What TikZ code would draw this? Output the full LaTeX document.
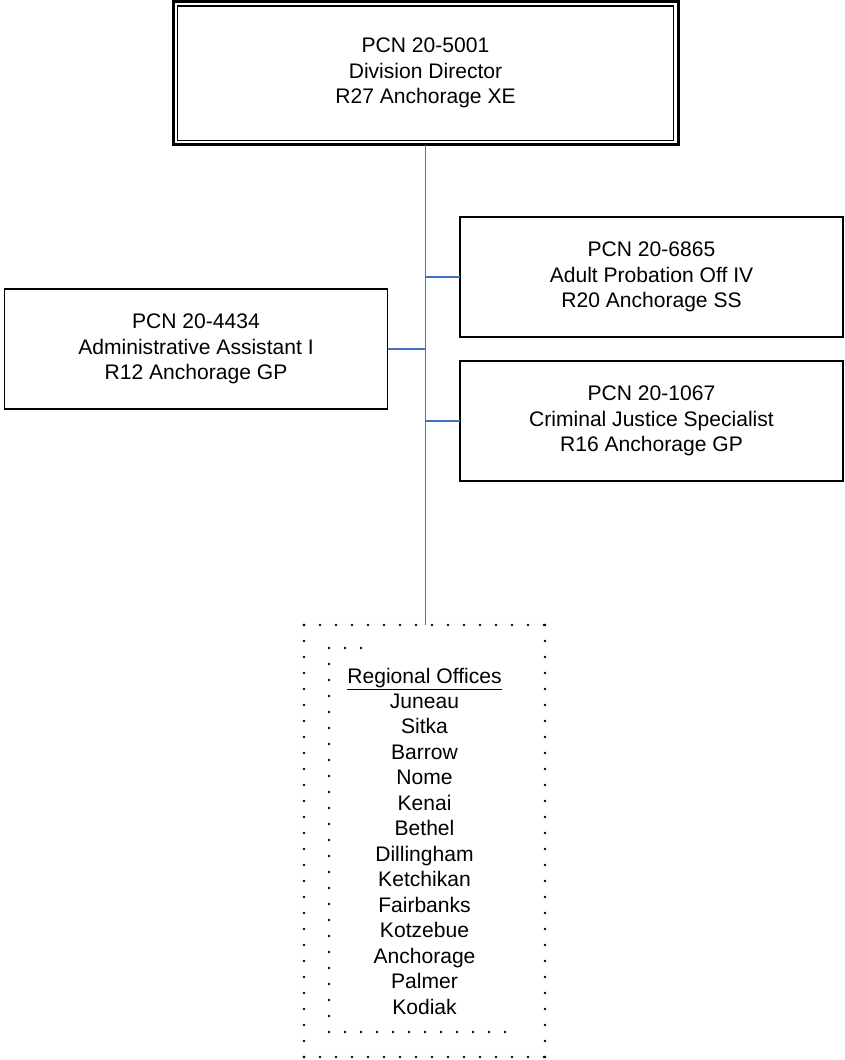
\documentclass[tikz,border=0pt]{standalone}
\usepackage{fontspec}
\setmainfont{Liberation Sans}
\usetikzlibrary{calc}
\definecolor{connblue}{RGB}{68,114,196}
\newcommand{\boxfont}{\fontsize{15.8}{19.1}\selectfont}
\tikzset{
  posbox/.style={draw, line width=1.3pt, minimum width=287.25pt, minimum height=90pt,
    inner sep=0pt, outer sep=0pt, align=center, font=\boxfont},
  topbox/.style={draw, line width=2.25pt, minimum width=378.75pt, minimum height=107.6pt,
    inner sep=0pt, outer sep=0pt, align=center, font=\boxfont},
  regbox/.style={minimum width=180.75pt, minimum height=324pt,
    inner sep=0pt, outer sep=0pt, align=center, font=\boxfont},
  conn/.style={draw=connblue, line width=1.1pt},
  dotmark/.style={fill=black}
}
\begin{document}
\begin{tikzpicture}[x=0.75pt,y=-0.75pt]
\useasboundingbox (0,0) rectangle (844,1060);

% top box (double border)
\node[topbox] (top) at (425.5,73.25) {\raisebox{-3pt}{\begin{tabular}{@{}c@{}}PCN 20-5001\\Division Director\\R27 Anchorage XE\end{tabular}}};
\draw[line width=1pt] ($(top.north west)+(4.5,4.5)$) rectangle ($(top.south east)+(-4.5,-4.5)$);

% side boxes
\node[posbox] (r1) at (651.5,277) {PCN 20-6865\\Adult Probation Off IV\\R20 Anchorage SS};
\node[posbox] (l1) at (196,349) {PCN 20-4434\\Administrative Assistant I\\R12 Anchorage GP};
\node[posbox] (r2) at (651.5,421) {PCN 20-1067\\Criminal Justice Specialist\\R16 Anchorage GP};

% regional offices
\node[regbox] (reg) at (424.5,841) {\underline{Regional Offices}\\Juneau\\Sitka\\Barrow\\Nome\\Kenai\\Bethel\\Dillingham\\Ketchikan\\Fairbanks\\Kotzebue\\Anchorage\\Palmer\\Kodiak};

% dotted frames
\foreach \i in {0,...,15} {
  \fill[dotmark] ({304+16*\i},625) circle[radius=1pt];
  \fill[dotmark] ({304+16*\i},1057) circle[radius=1pt];
}
\foreach \j in {0,...,27} {
  \fill[dotmark] (304,{625+16*\j}) circle[radius=1pt];
  \fill[dotmark] (545,{625+16*\j}) circle[radius=1pt];
}
\foreach \j in {0,...,24} {
  \fill[dotmark] (329,{648+16*\j}) circle[radius=1pt];
}
\foreach \i in {1,2} {
  \fill[dotmark] ({329+16*\i},648) circle[radius=1pt];
}
\foreach \i in {1,...,11} {
  \fill[dotmark] ({329+16*\i},1032) circle[radius=1pt];
}

% connectors
\draw[conn] (top.south) -- (top.south |- reg.north);
\draw[conn] (r1.west) -- (r1.west -| top.south);
\draw[conn] (l1.east) -- (l1.east -| top.south);
\draw[conn] (r2.west) -- (r2.west -| top.south);
\end{tikzpicture}
\end{document}
